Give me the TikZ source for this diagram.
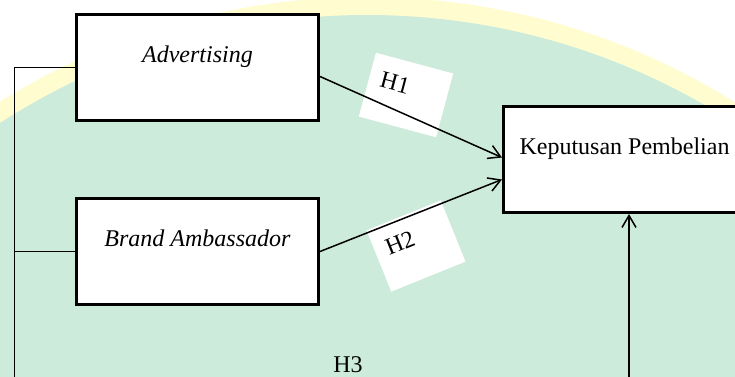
\documentclass[tikz,border=0pt]{standalone}
\usepackage{fontspec}
\setmainfont{Liberation Serif}
\usetikzlibrary{arrows.meta}
\definecolor{wmgreen}{RGB}{205,235,218}
\definecolor{wmyellow}{RGB}{255,253,208}

\begin{document}
\begin{tikzpicture}[
  x=0.5pt, y=-0.5pt,
  every node/.style={font=\fontsize{12pt}{14pt}\selectfont},
  varbox/.style={
    draw,
    fill=white,
    line width=1.5pt,
    inner sep=0pt,
    minimum width=121pt,
    text height=23.75pt,
    text depth=29.25pt
  },
  patch/.style={fill=white},
  arrow/.style={-{Straight Barb[length=6pt,width=7pt]}, line width=0.75pt},
  link/.style={line width=0.5pt}
]
\useasboundingbox (0,0) rectangle (735,376);
\clip (0,0) rectangle (735,376);

% watermark behind the figure
\fill[wmyellow] (367,692) circle[radius=347.5pt];
\fill[wmgreen] (367,692) circle[radius=338.5pt];

\node[varbox, anchor=north west] (adv) at (75,13) {\itshape Advertising};
\node[varbox, anchor=north west] (amb) at (75,197) {\itshape Brand Ambassador};
\node[varbox, anchor=north west] (kep) at (502,105) {Keputusan Pembelian};

% white patches under the H labels
\fill[patch, rotate around={-15:(406,95)}] (366,62) rectangle (446,128);
\fill[patch, rotate around={22:(416,246)}] (376,213) rectangle (456,279);

\node[rotate=-15] (h1) at (395,83) {H1};
\node[rotate=22] (h2) at (400,243) {H2};
\node (h3) at (348,365) {H3};

\coordinate (lb) at (14,400);
\coordinate (rb) at (629,400);

\draw[arrow] ([yshift=-4.5pt]adv.east) -- ([yshift=1pt]kep.west);
\draw[arrow] (amb.east) -- ([yshift=-10pt]kep.west);
\draw[link] (adv.west) -| (lb) -- (rb);
\draw[link] (amb.west) -- (amb.west -| lb);
\draw[arrow] (rb) -- (rb |- kep.south);

\end{tikzpicture}
\end{document}
